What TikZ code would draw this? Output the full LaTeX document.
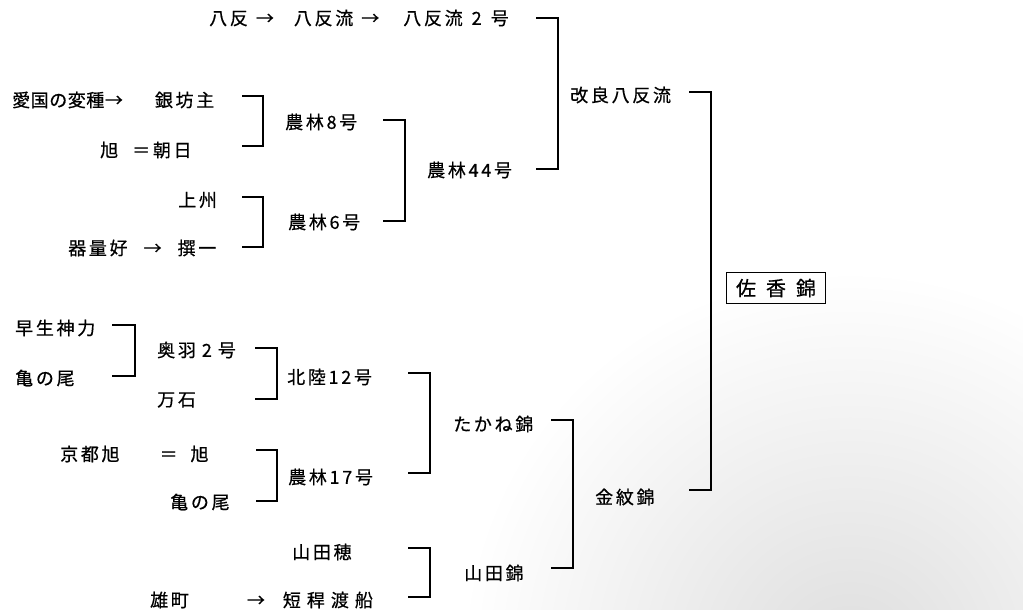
\documentclass[tikz,border=0pt]{standalone}
\usepackage{fontspec}
\newfontfamily\jp[LetterSpace=15,FakeBold=0.6]{Noto Sans CJK JP}
\newfontfamily\jpt[LetterSpace=3,FakeBold=0.6]{Noto Sans CJK JP}
\begin{document}
\begin{tikzpicture}[x=1pt,y=-1pt,
  lbl/.style={anchor=west, inner sep=0pt, font=\jp\fontsize{18}{18}\selectfont},
  brk/.style={line width=1.3pt, black}]
\useasboundingbox (0,0) rectangle (1023,610);
\shade[inner color=black!13, outer color=white] (850,660) circle (390);
% labels
\node[lbl] (hat) at (209,18) {八反\hspace{8pt}→\hspace{20pt}八反流\hspace{8pt}→\hspace{24pt}八反流\hspace{9pt}2\hspace{9pt}号};
\node[lbl] (gin) at (12,100) {{\jpt 愛国の変種→}\hspace{32pt}銀坊主};
\node[lbl] (asa) at (100,150) {旭\hspace{14pt}＝朝日};
\node[lbl] (n8) at (285,122) {農林8号};
\node[lbl] (jos) at (178,200) {上州};
\node[lbl] (kir) at (68,248) {器量好\hspace{16pt}→\hspace{16pt}撰一};
\node[lbl] (n6) at (288,222) {農林6号};
\node[lbl] (n44) at (427,170) {農林44号};
\node[lbl] (kai) at (570,95) {改良八反流};
\node[draw, line width=1pt, inner sep=0pt, minimum width=99pt, minimum height=31pt,
  font=\jp\fontsize{20}{20}\selectfont] (sak) at (776,288) {佐\hspace{10pt}香\hspace{10pt}錦};
\node[lbl] (wase) at (15,328) {早生神力};
\node[lbl] (kamea) at (15,378) {亀の尾};
\node[lbl] (ou) at (157,350) {奥羽\hspace{6pt}2\hspace{6pt}号};
\node[lbl] (man) at (157,400) {万石};
\node[lbl] (hok) at (287,377) {北陸12号};
\node[lbl] (kyo) at (60,454) {京都旭\hspace{40pt}＝\hspace{13pt}旭};
\node[lbl] (kameb) at (170,502) {亀の尾};
\node[lbl] (n17) at (288,477) {農林17号};
\node[lbl] (yhs) at (292,552) {山田穂};
\node[lbl] (omc) at (150,600) {雄町\hspace{58pt}→\hspace{18pt}短\hspace{6pt}稈\hspace{6pt}渡\hspace{6pt}船};
\node[lbl] (tak) at (453,424) {たかね錦};
\node[lbl] (yn) at (464,573) {山田錦};
\node[lbl] (kin) at (595,497) {金紋錦};
% bracket ends
\coordinate (b1a) at (242,96);  \coordinate (b1b) at (242,146);
\coordinate (b2a) at (242,197); \coordinate (b2b) at (242,247);
\coordinate (b3a) at (383,120); \coordinate (b3b) at (383,221);
\coordinate (b4a) at (536,18);  \coordinate (b4b) at (536,169);
\coordinate (b5a) at (689,92);  \coordinate (b5b) at (689,490);
\coordinate (b6a) at (112,325); \coordinate (b6b) at (112,376);
\coordinate (b7a) at (255,348); \coordinate (b7b) at (255,399);
\coordinate (b8a) at (256,450); \coordinate (b8b) at (256,501);
\coordinate (b9a) at (408,373); \coordinate (b9b) at (408,473);
\coordinate (b10a) at (408,548); \coordinate (b10b) at (408,597);
\coordinate (b11a) at (551,420); \coordinate (b11b) at (551,568);
\draw[brk] (b1a) -- ++(21,0) |- (b1b);
\draw[brk] (b2a) -- ++(21,0) |- (b2b);
\draw[brk] (b3a) -- ++(22,0) |- (b3b);
\draw[brk] (b4a) -- ++(22,0) |- (b4b);
\draw[brk] (b5a) -- ++(22,0) |- (b5b);
\draw[brk] (b6a) -- ++(23,0) |- (b6b);
\draw[brk] (b7a) -- ++(22,0) |- (b7b);
\draw[brk] (b8a) -- ++(21,0) |- (b8b);
\draw[brk] (b9a) -- ++(22,0) |- (b9b);
\draw[brk] (b10a) -- ++(22,0) |- (b10b);
\draw[brk] (b11a) -- ++(22,0) |- (b11b);
\end{tikzpicture}
\end{document}
